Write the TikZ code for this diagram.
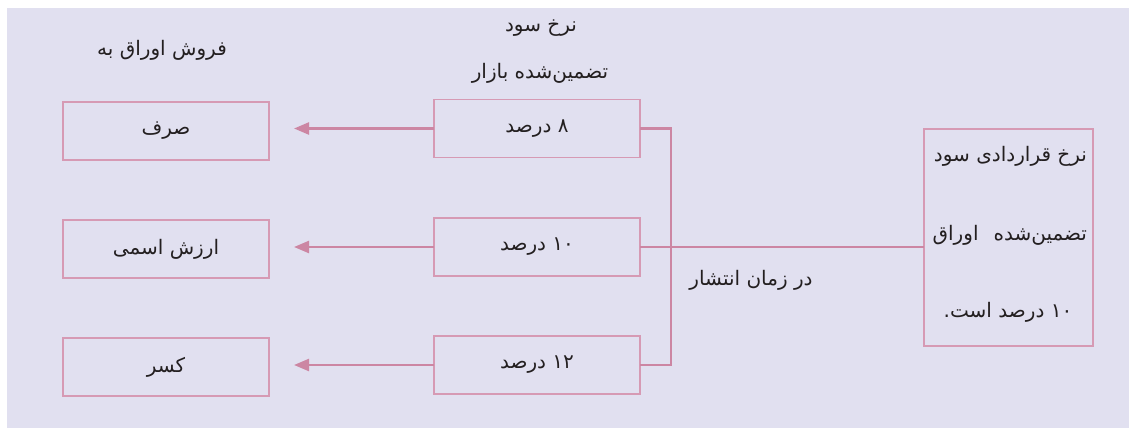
\documentclass[tikz,border=0pt]{standalone}
\usepackage{fontspec}
\usetikzlibrary{arrows.meta}
\TeXXeTstate=1
\newfontfamily\arfont[Script=Arabic]{DejaVu Sans}
\definecolor{bgc}{HTML}{E1E0F0}
\definecolor{boxline}{HTML}{D69AB4}
\definecolor{conn}{HTML}{CC86A3}
\definecolor{txt}{HTML}{231F20}
\begin{document}
\begin{tikzpicture}[x=1pt,y=-1pt,
  every node/.style={inner sep=0pt,outer sep=0pt,text=txt,font=\arfont\fontsize{20}{24}\selectfont},
  abox/.style={draw=boxline,line width=1.6pt,minimum width=206pt,minimum height=58pt},
  conline/.style={draw=conn,line width=2.4pt},
  arr/.style={conline,-{Triangle[length=15pt,width=12pt]}}]
\useasboundingbox (0,0) rectangle (1129,428);
\fill[bgc] (7,8) rectangle (1129,428);
% headers
\node (h1) at (162,50) {\beginR فروش اوراق به\endR};
\node (h2) at (541,28) {\beginR نرخ سود\endR};
\node (h3) at (540,73) {\beginR تضمین‌شده بازار\endR};
% left boxes
\node[abox] (l1) at (166,131) {\beginR صرف\endR};
\node[abox] (l2) at (166,249) {\beginR ارزش اسمی\endR};
\node[abox] (l3) at (166,367) {\beginR کسر\endR};
% middle boxes
\node[abox] (m1) at (537,128.5) {\beginR \beginL ۸\endL{} درصد\endR};
\node[abox] (m2) at (537,247) {\beginR \beginL ۱۰\endL{} درصد\endR};
\node[abox] (m3) at (537,365) {\beginR \beginL ۱۲\endL{} درصد\endR};
% right box
\node[draw=boxline,line width=1.6pt,minimum width=169pt,minimum height=217pt] (r) at (1008.5,237.5) {};
\node[anchor=east] (r1) at (1087,156) {\beginR نرخ قراردادی سود\endR};
\node[anchor=east] (r2) at (1087,235) {\beginR تضمین‌شده\hspace{15pt}اوراق\endR};
\node (r3) at (1008,312) {\beginR \beginL ۱۰\endL{} درصد است.\endR};
\node (zt) at (751,280) {\beginR در زمان انتشار\endR};
% arrows
\coordinate (a1) at (294,128.5);
\coordinate (a2) at (294,247);
\coordinate (a3) at (294,365);
\draw[arr] (m1.west) -- (a1);
\draw[arr] (m2.west) -- (a2);
\draw[arr] (m3.west) -- (a3);
% bracket
\coordinate (bt) at (671,128.5);
\coordinate (bb) at (671,365);
\draw[conline] (m1.east) -- (bt) -- (bb) -- (m3.east);
\draw[conline] (m2.east) -- (m2.east -| r.west);
\end{tikzpicture}
\end{document}
